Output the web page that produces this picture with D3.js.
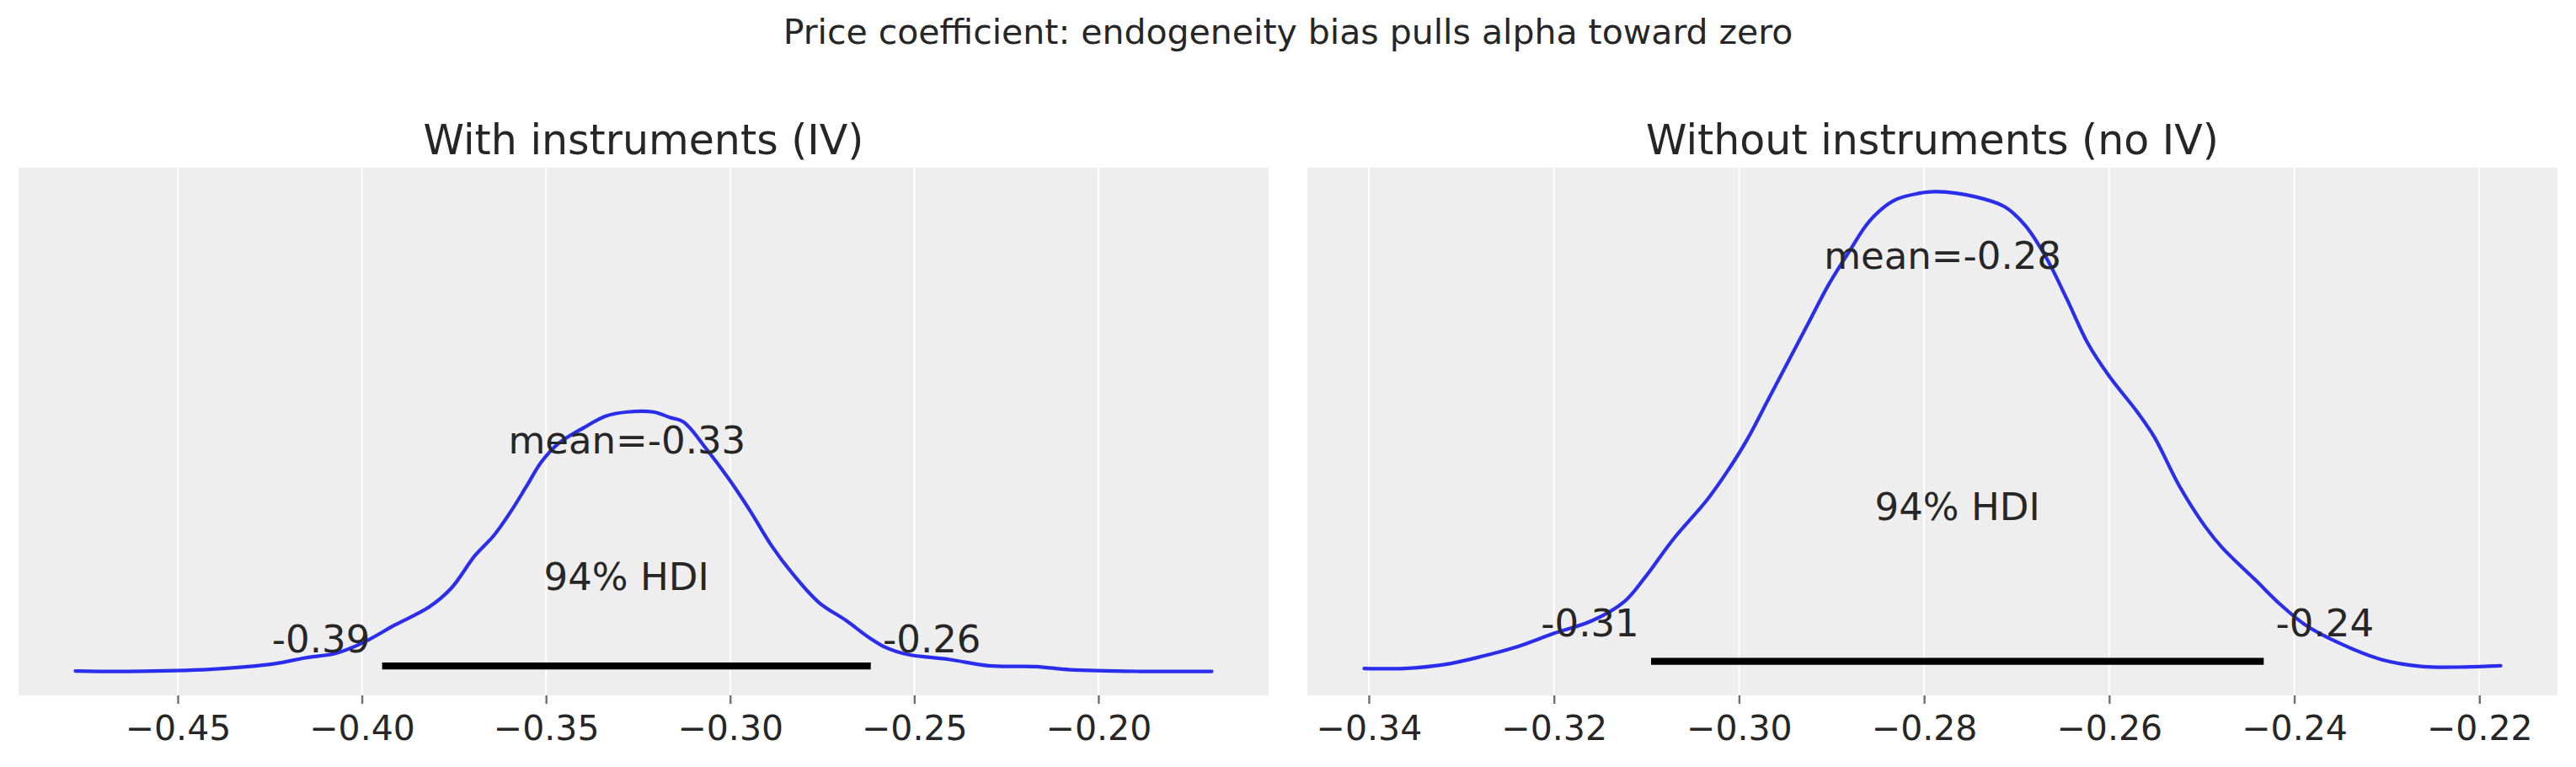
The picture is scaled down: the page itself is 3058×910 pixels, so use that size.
<!DOCTYPE html>
<html>
<head>
<meta charset="utf-8">
<script src="https://cdn.jsdelivr.net/npm/d3@7"></script>
<style>
body { margin: 0; background: #ffffff; }
text { font-family: "DejaVu Sans", sans-serif; fill: #262626; }
</style>
</head>
<body>
<div id="chart"></div>
<script>
var wide = 3058;
var high = 910;

// posterior density of alpha, with instruments
var ivX = [-0.4778, -0.4633, -0.4411, -0.4236, -0.4154, -0.4072, -0.4000, -0.3910, -0.3816, -0.3757,
  -0.3693, -0.3641, -0.3594, -0.3553, -0.3512, -0.3466, -0.3395, -0.3338, -0.3279, -0.3209,
  -0.3162, -0.3127, -0.3063, -0.3005, -0.2946, -0.2888, -0.2830, -0.2759, -0.2684, -0.2625,
  -0.2579, -0.2520, -0.2404, -0.2298, -0.2170, -0.2077, -0.1890, -0.1692];
var ivDensity = [0.02, 0.00, 0.10, 0.37, 0.65, 0.86, 1.35, 2.23, 3.11, 4.00,
  5.56, 6.54, 7.72, 8.89, 10.07, 10.95, 11.73, 12.26, 12.46, 12.46,
  12.19, 11.99, 10.65, 9.28, 7.72, 6.05, 4.68, 3.31, 2.43, 1.65,
  1.16, 0.82, 0.57, 0.27, 0.23, 0.08, 0.00, 0.00];

// posterior density of alpha, without instruments
var noIvX = [-0.3405, -0.3362, -0.3318, -0.3278, -0.3238, -0.3199, -0.3159, -0.3124, -0.3102, -0.3071,
  -0.3035, -0.3013, -0.2991, -0.2969, -0.2947, -0.2925, -0.2903, -0.2881, -0.2859, -0.2833,
  -0.2806, -0.2786, -0.2745, -0.2713, -0.2691, -0.2668, -0.2646, -0.2623, -0.2600, -0.2569,
  -0.2551, -0.2524, -0.2496, -0.2478, -0.2442, -0.2415, -0.2388, -0.2351, -0.2306, -0.2261,
  -0.2216, -0.2177];
var noIvDensity = [0.14, 0.14, 0.33, 0.72, 1.21, 1.84, 2.43, 3.35, 4.49, 6.35,
  8.21, 9.58, 11.15, 13.01, 14.87, 16.73, 18.59, 20.16, 21.63, 22.61,
  22.96, 23.04, 22.80, 22.32, 21.43, 19.87, 17.91, 15.75, 14.18, 12.42,
  11.24, 8.89, 6.94, 5.95, 4.39, 3.21, 2.23, 1.35, 0.57, 0.23,
  0.21, 0.27];

var titles = ["With instruments (IV)", "Without instruments (no IV)"];
var means = [-0.328, -0.278];
var hdiLow = [-0.3945, -0.3095];
var hdiHigh = [-0.2618, -0.2433];
var ivTicks = [-0.45, -0.40, -0.35, -0.30, -0.25, -0.20];
var noIvTicks = [-0.34, -0.32, -0.30, -0.28, -0.26, -0.24, -0.22];
var hdiText = "94% HDI";
var mainTitle = "Price coefficient: endogeneity bias pulls alpha toward zero";

var panelTop = 199;
var panelBottom = 825;
var panelLefts = [22, 1552];
var panelWidth = 1484;

var svg = d3
  .select("#chart")
  .append("svg")
  .attr("width", wide)
  .attr("height", high);

svg
  .append("text")
  .attr("x", wide / 2)
  .attr("y", 52)
  .attr("text-anchor", "middle")
  .attr("font-size", 41)
  .text(mainTitle);

// shared y axis, matplotlib style 5% margins
var allDensity = ivDensity.concat(noIvDensity);
var dMin = d3.min(allDensity);
var dMax = d3.max(allDensity);
var dPad = (dMax - dMin) * 0.05;
var yScale = d3
  .scaleLinear()
  .domain([dMin - dPad, dMax + dPad])
  .range([panelBottom, panelTop]);

var panels = [
  { xs: ivX, ys: ivDensity, ticks: ivTicks },
  { xs: noIvX, ys: noIvDensity, ticks: noIvTicks }
];

function drawPanel(p, i) {
  var left = panelLefts[i];
  var right = left + panelWidth;
  var xMin = d3.min(p.xs);
  var xMax = d3.max(p.xs);
  var xPad = (xMax - xMin) * 0.05;
  var xScale = d3
    .scaleLinear()
    .domain([xMin - xPad, xMax + xPad])
    .range([left, right]);

  var ownMin = d3.min(p.ys);
  var ownMax = d3.max(p.ys);
  var plotHeight = ownMax + (ownMax - ownMin) * 0.05;

  var g = svg.append("g");

  g.append("rect")
    .attr("x", left)
    .attr("y", panelTop)
    .attr("width", panelWidth)
    .attr("height", panelBottom - panelTop)
    .attr("fill", "#eeeeee");

  g.selectAll(".grid")
    .data(p.ticks)
    .enter()
    .append("line")
    .attr("x1", function(d) { return xScale(d); })
    .attr("x2", function(d) { return xScale(d); })
    .attr("y1", panelTop)
    .attr("y2", panelBottom)
    .attr("stroke", "#ffffff")
    .attr("stroke-width", 2);

  var xAxis = d3
    .axisBottom(xScale)
    .tickValues(p.ticks)
    .tickFormat(d3.format(".2f"))
    .tickSize(10);

  var ax = g
    .append("g")
    .attr("transform", "translate(0," + panelBottom + ")")
    .call(xAxis);
  ax.select(".domain").remove();
  ax.selectAll(".tick line")
    .attr("stroke", "#6e6e6e")
    .attr("stroke-width", 2.4);
  ax.selectAll(".tick text")
    .attr("y", 53)
    .attr("dy", 0)
    .attr("font-size", 41)
    .attr("font-family", "DejaVu Sans")
    .attr("fill", "#262626");

  g.append("text")
    .attr("x", (left + right) / 2)
    .attr("y", 183)
    .attr("text-anchor", "middle")
    .attr("font-size", 49)
    .text(titles[i]);

  var line = d3
    .line()
    .x(function(d, k) { return xScale(p.xs[k]); })
    .y(function(d) { return yScale(d); })
    .curve(d3.curveCatmullRom);

  g.append("path")
    .datum(p.ys)
    .attr("d", line)
    .attr("fill", "none")
    .attr("stroke", "#2a2eec")
    .attr("stroke-width", 4.2)
    .attr("stroke-linecap", "round")
    .attr("stroke-linejoin", "round");

  g.append("line")
    .attr("x1", xScale(hdiLow[i]))
    .attr("x2", xScale(hdiHigh[i]))
    .attr("y1", yScale(plotHeight * 0.02))
    .attr("y2", yScale(plotHeight * 0.02))
    .attr("stroke", "#000000")
    .attr("stroke-width", 8.4);

  g.append("text")
    .attr("x", xScale(means[i]))
    .attr("y", yScale(plotHeight * 0.8))
    .attr("text-anchor", "middle")
    .attr("font-size", 45)
    .text("mean=" + means[i].toFixed(2));

  g.append("text")
    .attr("x", xScale((hdiLow[i] + hdiHigh[i]) / 2))
    .attr("y", yScale(plotHeight * 0.3))
    .attr("text-anchor", "middle")
    .attr("font-size", 45)
    .text(hdiText);

  g.append("text")
    .attr("x", xScale(hdiLow[i]))
    .attr("y", yScale(plotHeight * 0.07))
    .attr("text-anchor", "end")
    .attr("font-size", 45)
    .style("white-space", "pre")
    .text(hdiLow[i].toFixed(2) + " ");

  g.append("text")
    .attr("x", xScale(hdiHigh[i]))
    .attr("y", yScale(plotHeight * 0.07))
    .attr("text-anchor", "start")
    .attr("font-size", 45)
    .style("white-space", "pre")
    .text(" " + hdiHigh[i].toFixed(2));
}

panels.forEach(drawPanel);
</script>
</body>
</html>
